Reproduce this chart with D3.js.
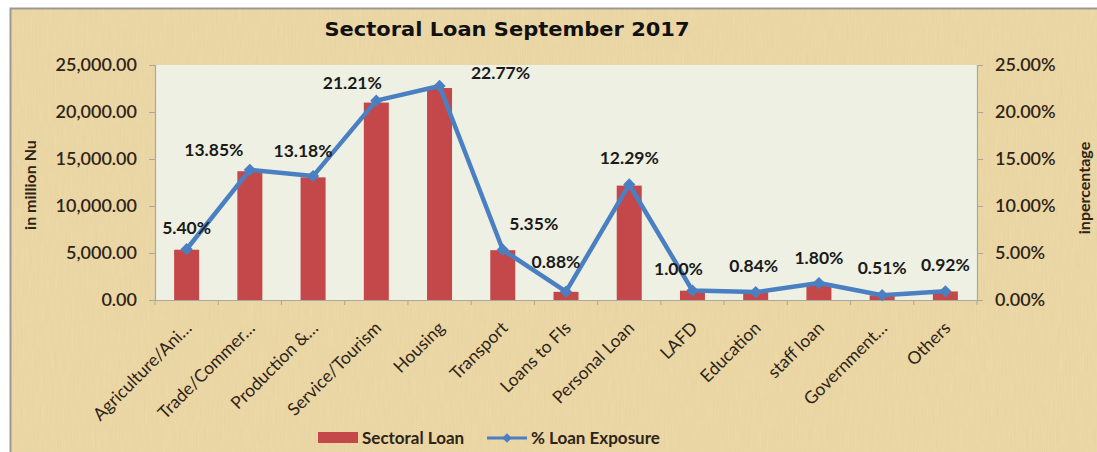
<!DOCTYPE html>
<html><head><meta charset="utf-8">
<script src="https://cdn.jsdelivr.net/npm/d3@7"></script>
<style>html,body{margin:0;padding:0;background:#fff;}svg{display:block;}</style>
</head><body>
<svg id="chart" width="1097" height="452"></svg>
<script>
const categories = ["Agriculture/Ani…","Trade/Commer…","Production &…","Service/Tourism","Housing","Transport","Loans to FIs","Personal Loan","LAFD","Education","staff loan","Government…","Others"];
const sectoralLoan = [5350, 13700, 13050, 21000, 22550, 5300, 870, 12170, 990, 830, 1780, 505, 910];
const loanExposure = [5.40, 13.85, 13.18, 21.21, 22.77, 5.35, 0.88, 12.29, 1.00, 0.84, 1.80, 0.51, 0.92];
const leftTicks = [0, 5000, 10000, 15000, 20000, 25000];
const rightTicks = [0, 5, 10, 15, 20, 25];
// label placement tweaks (pixels), matching the reference
const labelDx = [0, -36, -10, -24, 61, 31, -10, 0, -14, -2, 0, 0, 0];
const labelDy = [-22, -20, -26, -18, -13, -26, -30, -27, -22, -27, -26, -28, -27];

const svg = d3.select("#chart");
const defs = svg.append("defs");
const f = defs.append("filter").attr("id","pap").attr("x",0).attr("y",0).attr("width","100%").attr("height","100%");
f.append("feTurbulence").attr("type","fractalNoise").attr("baseFrequency","0.9 0.04").attr("numOctaves",2).attr("seed",3).attr("result","n");
f.append("feColorMatrix").attr("in","n").attr("type","matrix")
  .attr("values","0 0 0 0 0.55  0 0 0 0 0.42  0 0 0 0 0.2  0 0 0 0.2 0").attr("result","c");
f.append("feComposite").attr("in","c").attr("in2","SourceGraphic").attr("operator","atop");

// background
svg.append("rect").attr("x",10).attr("y",8).attr("width",1087).attr("height",444).attr("fill","#eedaa8").attr("filter","url(#pap)");
svg.append("path").attr("d","M10.5,452 V8.5 H1097").attr("fill","none").attr("stroke","#9a9a94").attr("stroke-width",2);

const m = {left:155, right:977, top:65, bottom:300};
const x = d3.scaleBand().domain(categories).range([m.left, m.right]).paddingInner(0).paddingOuter(0);
const yL = d3.scaleLinear().domain([0,25000]).range([m.bottom, m.top]);
const yR = d3.scaleLinear().domain([0,25]).range([m.bottom, m.top]);

svg.append("rect").attr("x",m.left).attr("y",m.top).attr("width",m.right-m.left).attr("height",m.bottom-m.top).attr("fill","#eef0e3");

const font = "Lato, 'Open Sans', sans-serif";
const txt = "#2e2418";

// axes
const gL = svg.append("g").attr("transform",`translate(${m.left},0)`)
  .call(d3.axisLeft(yL).tickValues(leftTicks).tickSize(6).tickPadding(12).tickFormat(d3.format(",.2f")));
const gR = svg.append("g").attr("transform",`translate(${m.right},0)`)
  .call(d3.axisRight(yR).tickValues(rightTicks).tickSize(6).tickPadding(12).tickFormat(d => d3.format(".2f")(d)+"%"));
[gL,gR].forEach(g=>{
  g.select(".domain").attr("stroke","#a8a8a0").attr("stroke-width",1.2);
  g.selectAll(".tick line").attr("stroke","#a8a8a0");
  g.selectAll("text").attr("font-family",font).attr("font-size",18).attr("font-weight",600).attr("fill",txt);
});

// x axis
const bw = x.bandwidth();
const gX = svg.append("g");
gX.append("line").attr("x1",m.left).attr("x2",m.right).attr("y1",m.bottom+0.5).attr("y2",m.bottom+0.5).attr("stroke","#a8a8a0").attr("stroke-width",1.2);
gX.selectAll("line.t").data(categories.concat(["_end"])).join("line").attr("class","t")
  .attr("x1",(d,i)=>m.left+i*bw).attr("x2",(d,i)=>m.left+i*bw).attr("y1",m.bottom).attr("y2",m.bottom+5).attr("stroke","#a8a8a0");
gX.selectAll("text").data(categories).join("text")
  .attr("transform",d=>`translate(${x(d)+bw/2+3},${m.bottom+26}) rotate(-45)`)
  .attr("text-anchor","end").attr("dominant-baseline","middle")
  .attr("font-family",font).attr("font-size",17.5).attr("fill",txt).text(d=>d);

// bars
const barW = 25;
svg.append("g").selectAll("rect").data(sectoralLoan).join("rect")
  .attr("x",(d,i)=>x(categories[i])+bw/2-barW/2).attr("width",barW)
  .attr("y",d=>yL(d)).attr("height",d=>m.bottom-yL(d)).attr("fill","#c4484a");

// line
const line = d3.line().x((d,i)=>x(categories[i])+bw/2).y(d=>yR(d));
svg.append("path").datum(loanExposure).attr("d",line).attr("fill","none").attr("stroke","#4a80c2").attr("stroke-width",4.5).attr("stroke-linejoin","round");
svg.append("g").selectAll("path").data(loanExposure).join("path")
  .attr("d", d3.symbol().type(d3.symbolSquare).size(75))
  .attr("transform",(d,i)=>`translate(${x(categories[i])+bw/2},${yR(d)}) rotate(45)`)
  .attr("fill","#4a80c2");

// data labels
svg.append("g").selectAll("text").data(loanExposure).join("text")
  .attr("x",(d,i)=>x(categories[i])+bw/2+labelDx[i]).attr("y",(d,i)=>yR(d)+labelDy[i])
  .attr("text-anchor","middle").attr("dominant-baseline","central")
  .attr("font-family",font).attr("font-size",17.5).attr("font-weight",700).attr("fill","#1a1a1a")
  .text(d=>d3.format(".2f")(d)+"%");

// title
svg.append("text").attr("x",507).attr("y",36).attr("text-anchor","middle")
  .attr("font-family","'DejaVu Sans', sans-serif").attr("font-weight",700).attr("font-size",20)
  .attr("textLength",365).attr("lengthAdjust","spacingAndGlyphs").attr("fill","#111").text("Sectoral Loan September 2017");

// axis titles
svg.append("text").attr("transform","translate(36,185) rotate(-90)").attr("text-anchor","middle")
  .attr("font-family",font).attr("font-weight",700).attr("font-size",16).attr("fill",txt).text("in million Nu");
svg.append("text").attr("transform","translate(1090,188) rotate(-90)").attr("text-anchor","middle")
  .attr("font-family",font).attr("font-weight",700).attr("font-size",16).attr("fill",txt).text("inpercentage");

// legend
const lg = svg.append("g");
lg.append("rect").attr("x",318).attr("y",432).attr("width",40).attr("height",11).attr("fill","#c4484a");
lg.append("text").attr("x",362).attr("y",444).attr("font-family",font).attr("font-weight",700).attr("font-size",17).attr("fill",txt).text("Sectoral Loan");
lg.append("line").attr("x1",487).attr("x2",527).attr("y1",438).attr("y2",438).attr("stroke","#4a80c2").attr("stroke-width",3);
lg.append("path").attr("d",d3.symbol().type(d3.symbolSquare).size(45)).attr("transform","translate(507,438) rotate(45)").attr("fill","#4a80c2");
lg.append("text").attr("x",531).attr("y",444).attr("font-family",font).attr("font-weight",700).attr("font-size",17).attr("fill",txt).text("% Loan Exposure");
</script>
</body></html>
